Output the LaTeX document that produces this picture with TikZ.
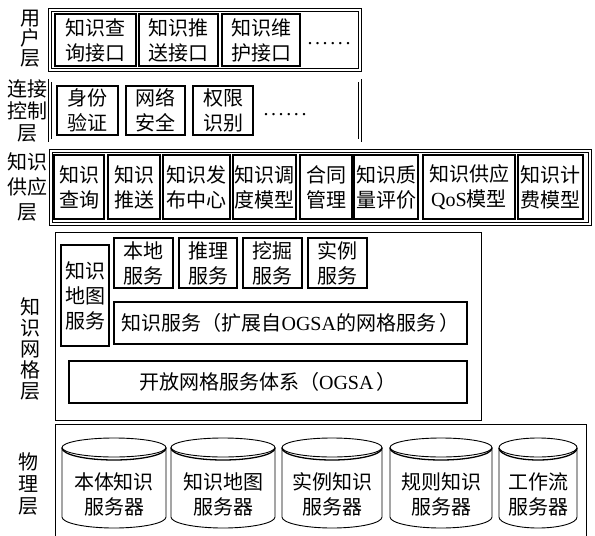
\documentclass[tikz,border=0pt]{standalone}
\usepackage{fontspec}
\setmainfont{Noto Sans CJK SC}
\newfontfamily\lat{Liberation Serif}
\newcommand\sixdots{.\kern2.6pt.\kern2.6pt.\kern2.6pt.\kern2.6pt.\kern2.6pt.}
\newcommand\mycyl[4]{%
  \draw[cyl] (#1,447.5) -- (#1,517) arc[start angle=180,end angle=360,x radius=#4pt,y radius=11pt] -- (#2,447.5);
  \draw[cyl] (#3,447.5) ellipse[x radius=#4pt, y radius=9.5pt];
  \draw[cyl, line width=1.3pt] (#1,448) arc[start angle=180,end angle=360,x radius=#4pt,y radius=12pt];
}
\tikzset{
  box/.style={draw, line width=1.1pt, inner sep=0pt, align=center, font=\fontsize{20}{25}\selectfont},
  frameA/.style={draw, double, double distance=2.4pt, line width=0.7pt},
  frameB/.style={draw, line width=1pt},
  lab/.style={align=center, inner sep=0pt},
  cyl/.style={line width=0.9pt},
  dots/.style={inner sep=0pt, font=\lat\fontsize{20}{20}\selectfont},
}
\begin{document}
\begin{tikzpicture}[x=1pt,y=-1pt]
\useasboundingbox (0,0) rectangle (595,536);

% ---------- user layer ----------
\draw[frameA] (50,10) rectangle (360,70);
\node[lab, font=\fontsize{20}{20}\selectfont] (Luser) at (30,39) {用\\户\\层};
\node[box, minimum width=81pt, minimum height=52pt] (q1) at (95.5,40) {知识查\\询接口};
\node[box, minimum width=79pt, minimum height=52pt] (q2) at (178.5,40) {知识推\\送接口};
\node[box, minimum width=78pt, minimum height=52pt] (q3) at (261,40) {知识维\\护接口};
\node[dots] (d1) at (329,44) {\sixdots};

% ---------- connection control layer ----------
\draw[frameA] (50,80.5) rectangle (360,140.5);
\node[lab, font=\fontsize{20}{22}\selectfont] (Lconn) at (27,111) {连接\\控制\\层};
\node[box, minimum width=61pt, minimum height=49pt] (b1) at (87.5,110.5) {身份\\验证};
\node[box, minimum width=59pt, minimum height=49pt] (b2) at (155.5,110.5) {网络\\安全};
\node[box, minimum width=60pt, minimum height=49pt] (b3) at (223,110.5) {权限\\识别};
\node[dots] (d2) at (285,115) {\sixdots};

% ---------- knowledge supply layer ----------
\draw[frameA] (51,151) rectangle (590,224);
\node[lab, font=\fontsize{20}{25}\selectfont] (Lsup) at (27,187) {知识\\供应\\层};
\node[box, minimum width=50pt, minimum height=64pt] (s1) at (79,187) {知识\\查询};
\node[box, minimum width=52pt, minimum height=64pt] (s2) at (134,187) {知识\\推送};
\node[box, minimum width=67pt, minimum height=64pt] (s3) at (196.5,187) {知识发\\布中心};
\node[box, minimum width=63pt, minimum height=64pt] (s4) at (264.5,187) {知识调\\度模型};
\node[box, minimum width=52pt, minimum height=64pt] (s5) at (326,187) {合同\\管理};
\node[box, minimum width=64pt, minimum height=64pt] (s6) at (386,187) {知识质\\量评价};
\node[box, minimum width=92pt, minimum height=64pt] (s7) at (469,187) {知识供应\\{\lat QoS}模型};
\node[box, minimum width=65pt, minimum height=64pt] (s8) at (550.5,187) {知识计\\费模型};

% ---------- knowledge grid layer ----------
\draw[frameB] (55,232) rectangle (481,420);
\node[lab, font=\fontsize{20}{21}\selectfont] (Lgrid) at (30,349) {知\\识\\网\\格\\层};
\node[box, minimum width=48pt, minimum height=101pt] (m) at (85,295.5) {知识\\地图\\服务};
\node[box, minimum width=59pt, minimum height=50pt] (l1) at (143.5,263) {本地\\服务};
\node[box, minimum width=58pt, minimum height=50pt] (l2) at (208,263) {推理\\服务};
\node[box, minimum width=59pt, minimum height=50pt] (l3) at (272.5,263) {挖掘\\服务};
\node[box, minimum width=59pt, minimum height=50pt] (l4) at (337.5,263) {实例\\服务};
\node[box, minimum width=353pt, minimum height=42pt] (ks) at (290.5,323) {知识服务（扩展自{\lat OGSA}的网格服务\,）};
\node[box, minimum width=398pt, minimum height=42pt] (og) at (268,382) {开放网格服务体系（{\lat OGSA}\,）};

% ---------- physical layer ----------
\draw[frameB] (55,540) -- (55,424) -- (586,424) -- (586,540);
\node[lab, font=\fontsize{20}{22}\selectfont] (Lphys) at (28,484) {物\\理\\层};
\mycyl{62}{166}{114}{52}
\mycyl{171}{275}{223}{52}
\mycyl{282}{382}{332}{50}
\mycyl{390}{492}{441}{51}
\mycyl{499}{577}{538}{39}
\node[lab, font=\fontsize{20}{25}\selectfont] (t1) at (114,494) {本体知识\\服务器};
\node[lab, font=\fontsize{20}{25}\selectfont] (t2) at (223,494) {知识地图\\服务器};
\node[lab, font=\fontsize{20}{25}\selectfont] (t3) at (332,494) {实例知识\\服务器};
\node[lab, font=\fontsize{20}{25}\selectfont] (t4) at (441,494) {规则知识\\服务器};
\node[lab, font=\fontsize{20}{25}\selectfont] (t5) at (538,494) {工作流\\服务器};
\end{tikzpicture}
\end{document}
